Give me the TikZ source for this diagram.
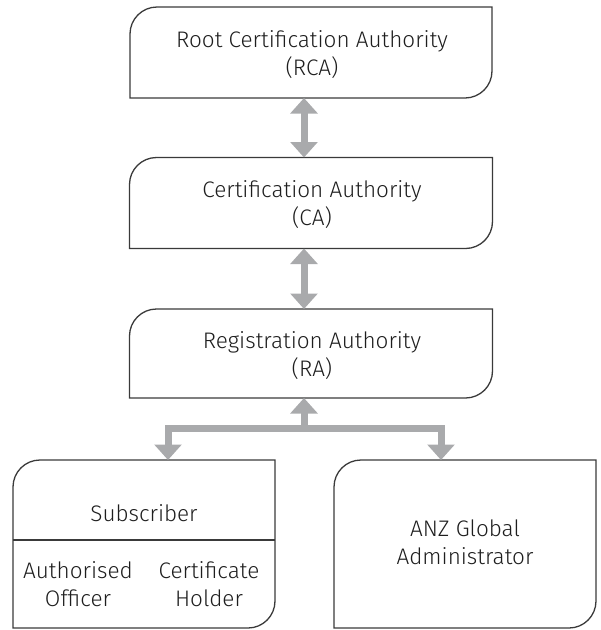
\documentclass[tikz,border=0pt]{standalone}
\usepackage{fontspec}
\setmainfont{Fira Sans}[UprightFont=* Light]
\usetikzlibrary{arrows.meta,calc}
\definecolor{linec}{HTML}{3A3A3A}
\definecolor{arrowc}{HTML}{A9AAAC}
\definecolor{textc}{HTML}{1E1E1E}
\def\rr{27}
\newcommand\rbox[1]{%
  \draw[boxline] (#1.south west) -- ($(#1.north west)+(0,\rr)$)
    .. controls ($(#1.north west)+(0,\rr*0.448)$) and ($(#1.north west)+(\rr*0.448,0)$) .. ($(#1.north west)+(\rr,0)$)
    -- (#1.north east) -- ($(#1.south east)+(0,-\rr)$)
    .. controls ($(#1.south east)+(0,-\rr*0.448)$) and ($(#1.south east)+(-\rr*0.448,0)$) .. ($(#1.south east)+(-\rr,0)$)
    -- cycle;}
\tikzset{
  gt/.tip={Triangle[width=26.7pt,length=15.5pt]},
  boxshape/.style={draw=none,inner sep=0pt,outer sep=0pt,rectangle},
  boxline/.style={draw=linec,line width=1.3pt},
  txt/.style={inner sep=0pt,outer sep=0pt,align=center,text=textc,font=\fontsize{22.5}{28}\selectfont},
  garrow/.style={draw=arrowc,line width=7pt,line join=miter}
}
\begin{document}
\begin{tikzpicture}[x=1pt,y=-1pt]
\useasboundingbox (0,0) rectangle (601,630);
% boxes
\node[boxshape,minimum width=362pt,minimum height=91pt] (rca) at (311,52.5) {};
\node[boxshape,minimum width=363pt,minimum height=91pt] (ca) at (311,203) {};
\node[boxshape,minimum width=363pt,minimum height=89pt] (ra) at (311,353.5) {};
\node[boxshape,minimum width=262pt,minimum height=168pt] (sub) at (144,544) {};
\node[boxshape,minimum width=262pt,minimum height=168pt] (anz) at (465,544) {};
\rbox{rca}
\rbox{ca}
\rbox{ra}
\rbox{sub}
\rbox{anz}
\draw[boxline] (sub.west |- 0,540) -- (sub.east |- 0,540);
% texts
\node[txt] (trca) at (312,55) {Root Certification Authority\\(RCA)};
\node[txt] (tca) at (312,205) {Certification Authority\\(CA)};
\node[txt] (tra) at (312,356) {Registration Authority\\(RA)};
\node[txt] (tsub) at (144,513) {Subscriber};
\node[txt] (tao) at (78,584.5) {Authorised\\Officer};
\node[txt] (tch) at (209,584.5) {Certificate\\Holder};
\node[txt] (tanz) at (465,542) {ANZ Global\\Administrator};
% arrows
\coordinate (ax) at (304,0);
\coordinate (jl) at (168,428);
\coordinate (jm) at (304,428);
\coordinate (jr) at (441,428);
\draw[garrow,gt-gt] (rca.south -| ax) -- (ca.north -| ax);
\draw[garrow,gt-gt] (ca.south -| ax) -- (ra.north -| ax);
\draw[garrow,gt-gt] (sub.north -| jl) -- (jl) -- (jr) -- (anz.north -| jr);
\draw[garrow,-gt] (jm) -- (ra.south -| jm);
\end{tikzpicture}
\end{document}
